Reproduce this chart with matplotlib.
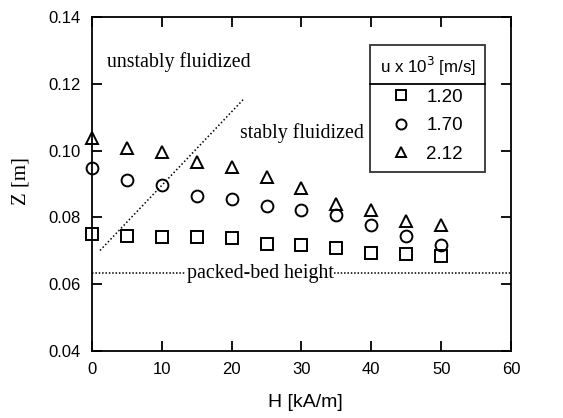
import matplotlib
matplotlib.use("Agg")
from matplotlib import pyplot as plt
from matplotlib.lines import Line2D

# H [kA/m]
field = [0, 5, 10, 15, 20, 25, 30, 35, 40, 45, 50]

# bed height Z [m] for each superficial velocity
z_120 = [0.0750, 0.0745, 0.0741, 0.0741, 0.0737, 0.0720, 0.0716, 0.0707, 0.0694, 0.0690, 0.0683]
z_170 = [0.0947, 0.0911, 0.0896, 0.0865, 0.0855, 0.0833, 0.0823, 0.0807, 0.0776, 0.0744, 0.0716]
z_212 = [0.1037, 0.1007, 0.0995, 0.0967, 0.0952, 0.0920, 0.0889, 0.0840, 0.0823, 0.0788, 0.0778]
labels = ["1.20", "1.70", "2.12"]

# boundary between stable / unstable regimes
boundary_h = [1.15, 21.8]
boundary_z = [0.0701, 0.1156]

packed_bed = 0.0633

sans = ["Liberation Sans", "DejaVu Sans"]
serif = ["Liberation Serif", "DejaVu Serif"]

fig = plt.figure(figsize=(5.63, 4.18), dpi=100)
ax = fig.add_axes([0.1634, 0.1603, 0.7442, 0.7990])

mk = dict(linestyle="none", markerfacecolor="none", markeredgecolor="black",
          markeredgewidth=1.4, clip_on=False)
ax.plot(field, z_120, marker="s", markersize=8, label=labels[0], **mk)
ax.plot(field, z_170, marker="o", markersize=8.5, label=labels[1], **mk)
ax.plot(field, z_212, marker="^", markersize=9, label=labels[2], **mk)

ax.plot(boundary_h, boundary_z, color="black", linestyle=(0, (1, 1.5)), linewidth=1.1)
ax.axhline(packed_bed, color="black", linestyle=(0, (1, 1.2)), linewidth=1.1)

ax.text(2.1, 0.1265, "unstably fluidized", family=serif, fontsize=14.3, va="center")
ax.text(21.2, 0.1052, "stably fluidized", family=serif, fontsize=14.3, va="center")
ax.text(24.1, packed_bed, "packed-bed height", family=serif, fontsize=14.3,
        ha="center", va="center",
        bbox=dict(facecolor="white", edgecolor="none", pad=0.3))

ax.set_xlim(0, 60)
ax.set_ylim(0.04, 0.14)
ax.set_xticks(range(0, 61, 10))
ax.set_yticks([0.04, 0.06, 0.08, 0.10, 0.12, 0.14])
ax.set_yticklabels(["0.04", "0.06", "0.08", "0.10", "0.12", "0.14"])
ax.tick_params(direction="in", top=True, right=True, length=7, width=1.3,
               labelsize=12, pad=8)
for lab in ax.get_xticklabels() + ax.get_yticklabels():
    lab.set_family(sans)
for sp in ax.spines.values():
    sp.set_linewidth(1.3)

ax.set_xlabel("H [kA/m]", family=sans, fontsize=14)
ax.xaxis.set_label_coords(0.51, -0.13)
ax.set_ylabel("Z [m]", family=serif, fontsize=15)
ax.yaxis.set_label_coords(-0.146, 0.51)

leg = ax.legend(title=r"u x 10$^3$ [m/s]", loc="upper right",
                bbox_to_anchor=(0.938, 0.916), frameon=True, fancybox=False,
                edgecolor="black", fontsize=13.5, title_fontsize=12.2,
                handletextpad=0.9, labelspacing=0.6, borderpad=0.5,
                borderaxespad=0, handlelength=0.9, markerscale=0.85)
leg.get_frame().set_linewidth(1.3)
leg.get_title().set_family(sans)
for t in leg.get_texts():
    t.set_family(sans)

# line under the legend title
fig.canvas.draw()
rend = fig.canvas.get_renderer()
fb = leg.get_frame().get_window_extent(rend)
tb = leg.get_title().get_window_extent(rend)
ysep = tb.y0 - 6
inv = fig.transFigure.inverted()
x0, y0 = inv.transform((fb.x0, ysep))
x1, _ = inv.transform((fb.x1, ysep))
fig.add_artist(Line2D([x0, x1], [y0, y0], color="black", linewidth=1.3))

fig.savefig("out.png", dpi=100)
